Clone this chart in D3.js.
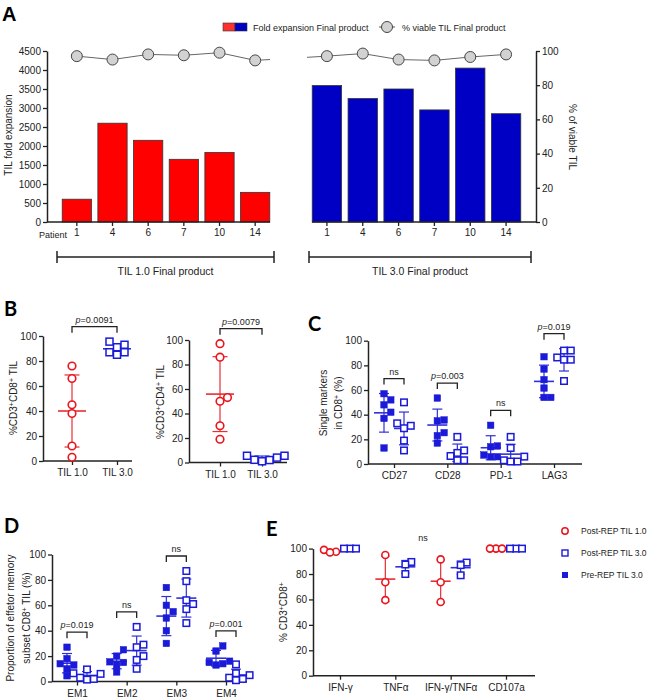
<!DOCTYPE html>
<html>
<head>
<meta charset="utf-8">
<script src="https://cdn.jsdelivr.net/npm/d3@7"></script>
<style>
  body { margin: 0; background: #fff; }
  svg { font-family: "Liberation Sans", Arial, sans-serif; }
</style>
</head>
<body>
<svg id="fig" width="648" height="700"></svg>
<script>
// ---- data ----
const patients = ['1', '4', '6', '7', '10', '14'];
const foldTIL1 = [600, 2600, 2150, 1650, 1830, 780];
const foldTIL3 = [3590, 3250, 3500, 2950, 4050, 2850];
const viableTIL1 = [97, 95, 98, 97.5, 99, 94.5];
const viableTIL3 = [97, 98.5, 95, 94.5, 96.5, 98];
const foldTicks = d3.range(0, 4501, 500);
const pctTicks = [0, 20, 40, 60, 80, 100];

const tilGroups = ['TIL 1.0', 'TIL 3.0'];
const cd8TIL1 = [76, 66, 45, 38, 12, 3];
const cd8TIL3 = [91, 93, 95.5, 87, 87, 85];
const cd4TIL1 = [97, 86, 53, 50, 30, 19];
const cd4TIL3 = [5.5, 4, 5.5, 2.2, 2, 1];
const tilStats = ['p=0.0091', 'p=0.0079'];

const markers = ['CD27', 'CD28', 'PD-1', 'LAG3'];
const markerPre = [[52, 57, 48, 42, 37, 13], [53.5, 35.7, 35, 25.4, 23, 17], [31.4, 14.6, 14, 7.3, 5.9, 5.9], [87, 77, 68.4, 61.6, 54, 54]];
const markerPost = [[50, 33, 31, 29, 19, 11], [22, 11, 9, 6.5, 3, 3], [22, 13, 6, 3, 2, 2], [92, 92, 86.4, 84.6, 84.6, 67.3]];
const markerStats = ['ns', 'p=0.003', 'ns', 'p=0.019'];

const subsets = ['EM1', 'EM2', 'EM3', 'EM4'];
const subsetPre = [[27, 18, 14, 13, 10, 4.5], [25, 20, 15.5, 15, 13, 7.5], [74, 60, 55, 50, 40, 30], [28, 24, 16, 15, 14, 13]];
const subsetPost = [[9.5, 6.5, 6, 3, 2, 1.5], [43, 29, 27, 20, 17, 10], [87, 79, 64, 61, 57, 46], [13.5, 6.5, 5, 3, 2, 1]];
const subsetStats = ['p=0.019', 'ns', 'ns', 'p=0.001'];

const cytokines = ['IFN-γ', 'TNFα', 'IFN-γ/TNFα', 'CD107a'];
const cytoTIL1 = [[99, 97.5, 97], [95, 73.5, 59.5], [91.5, 73.5, 58], [100, 100, 100]];
const cytoTIL3 = [[100, 100, 100], [89.5, 87.5, 80], [89, 87, 79], [100, 100, 100]];
const legendE = ['Post-REP TIL 1.0', 'Post-REP TIL 3.0', 'Pre-REP TIL 3.0'];

// ---- style ----
const FONT = '"Liberation Sans", Arial, sans-serif';
const INK = '#222';
const RED = '#e8161e', BLUE = '#1a1ad8';
const svg = d3.select('#fig');

function styleAxis(a, fs) {
  a.attr('font-family', FONT).attr('font-size', fs || 10);
  a.selectAll('.domain').attr('stroke', INK).attr('stroke-width', 1.5);
  a.selectAll('.tick line').attr('stroke', INK).attr('stroke-width', 1.3);
  a.selectAll('.tick text').attr('fill', INK);
}

// text with superscripts / italics
function rich(t, parts) {
  parts.forEach(([s, f]) => {
    const ts = t.append('tspan').text(s);
    if (f === 'sup') ts.attr('baseline-shift', 'super').attr('font-size', '0.7em');
    if (f === 'i') ts.attr('font-style', 'italic');
  });
  return t;
}
function statParts(s) {
  return s.startsWith('p=') ? [['p', 'i'], [s.slice(1)]] : [[s]];
}
function vTitle(x, y, parts, rot, fs) {
  const t = svg.append('text')
    .attr('transform', `translate(${x},${y}) rotate(${rot || -90})`)
    .attr('text-anchor', 'middle').attr('dy', '0.35em')
    .attr('font-size', fs || 10).attr('fill', INK);
  return rich(t, parts);
}
function panelLabel(s, x, y, fam) {
  svg.append('text').attr('x', x).attr('y', y).text(s)
    .attr('font-family', fam).attr('font-weight', 'bold').attr('font-size', 20).attr('fill', '#000');
}

// simple beeswarm: nearest free horizontal slot
function swarm(values, y, d) {
  const order = d3.range(values.length).sort((a, b) => values[a] - values[b]);
  const placed = [], offs = [];
  order.forEach(i => {
    const yi = y(values[i]);
    for (let k = 0; ; k++) {
      const o = k === 0 ? 0 : (k % 2 ? 1 : -1) * Math.ceil(k / 2) * d;
      if (placed.every(p => Math.hypot(p.x - o, p.y - yi) >= d * 0.999)) {
        offs[i] = o; placed.push({ x: o, y: yi }); break;
      }
    }
  });
  return offs;
}

// ================= Panel A =================
panelLabel('A', 2, 21, FONT);
const yFold = d3.scaleLinear().domain([0, 4500]).range([222, 51]);
const yViab = d3.scaleLinear().domain([0, 100]).range([222, 51]);
const xA1 = d3.scaleBand().domain(patients).range([59, 273]).paddingInner(0.18).paddingOuter(0.09);
const xA3 = d3.scaleBand().domain(patients).range([309, 524]).paddingInner(0.18).paddingOuter(0.09);

const gA = svg.append('g');
[[xA1, foldTIL1, '#ff0000'], [xA3, foldTIL3, '#0000c4']].forEach(([x, vals, col]) => {
  gA.append('g').selectAll('rect').data(vals).join('rect')
    .attr('x', (d, i) => x(patients[i]))
    .attr('y', d => yFold(d))
    .attr('width', x.bandwidth())
    .attr('height', d => yFold(0) - yFold(d))
    .attr('fill', col).attr('stroke', '#333').attr('stroke-width', 0.8);
});

const axL = gA.append('g').attr('transform', 'translate(47,0)')
  .call(d3.axisLeft(yFold).tickValues(foldTicks).tickSize(4).tickPadding(2).tickSizeOuter(0).tickFormat(d3.format('d')));
styleAxis(axL);
const axR = gA.append('g').attr('transform', 'translate(536,0)')
  .call(d3.axisRight(yViab).tickValues(pctTicks).tickSize(4).tickPadding(2).tickSizeOuter(0));
styleAxis(axR);

[[47, 270, xA1], [312, 536, xA3]].forEach(([x1, x2, x]) => {
  gA.append('line').attr('x1', x1).attr('x2', x2).attr('y1', 222).attr('y2', 222)
    .attr('stroke', INK).attr('stroke-width', 1.5);
  const ax = gA.append('g').attr('transform', 'translate(0,222)')
    .call(d3.axisBottom(x).tickSize(4).tickPadding(3));
  ax.select('.domain').remove();
  styleAxis(ax);
});
gA.append('text').attr('x', 39).attr('y', 238).text('Patient').attr('font-size', 9).attr('fill', INK);

vTitle(8, 135, [['TIL fold expansion']]);
vTitle(572, 137, [['% of viable TIL']], 90);

// viability line + circles
const defs = svg.append('defs');
defs.append('clipPath').attr('id', 'clipA1').append('rect').attr('x', 47).attr('y', 0).attr('width', 223).attr('height', 230);
defs.append('clipPath').attr('id', 'clipA3').append('rect').attr('x', 307).attr('y', 0).attr('width', 229).attr('height', 230);
const viabPts = patients.map((p, i) => [xA1(p) + xA1.bandwidth() / 2, yViab(viableTIL1[i])])
  .concat(patients.map((p, i) => [xA3(p) + xA3.bandwidth() / 2, yViab(viableTIL3[i])]));
['clipA1', 'clipA3'].forEach(id => {
  gA.append('path').attr('d', d3.line()(viabPts)).attr('clip-path', `url(#${id})`)
    .attr('fill', 'none').attr('stroke', '#555').attr('stroke-width', 0.9);
});
gA.append('g').selectAll('circle').data(viabPts).join('circle')
  .attr('cx', d => d[0]).attr('cy', d => d[1]).attr('r', 5.5)
  .attr('fill', '#d2d2d2').attr('stroke', '#444').attr('stroke-width', 1);

// legend A
gA.append('rect').attr('x', 223).attr('y', 23).attr('width', 12).attr('height', 8).attr('fill', '#ff3030').attr('stroke', '#333').attr('stroke-width', 0.6);
gA.append('rect').attr('x', 235).attr('y', 23).attr('width', 12).attr('height', 8).attr('fill', '#0000c4').attr('stroke', '#333').attr('stroke-width', 0.6);
gA.append('text').attr('x', 253).attr('y', 30.5).text('Fold expansion Final product').attr('font-size', 9).attr('fill', INK);
gA.append('line').attr('x1', 379).attr('x2', 395).attr('y1', 27).attr('y2', 27).attr('stroke', '#555');
gA.append('circle').attr('cx', 387).attr('cy', 27).attr('r', 5.5).attr('fill', '#d2d2d2').attr('stroke', '#444');
gA.append('text').attr('x', 402).attr('y', 30.5).text('% viable TIL Final product').attr('font-size', 9).attr('fill', INK);

// group brackets
[[57, 274, 'TIL 1.0 Final product'], [309, 531, 'TIL 3.0 Final product']].forEach(([x1, x2, lab]) => {
  gA.append('path').attr('d', `M${x1},251V263M${x1},257H${x2}M${x2},251V263`)
    .attr('fill', 'none').attr('stroke', INK).attr('stroke-width', 1.5);
  gA.append('text').attr('x', (x1 + x2) / 2).attr('y', 275).attr('text-anchor', 'middle')
    .text(lab).attr('font-size', 10.5).attr('fill', INK);
});

// ================= dot plot panels =================
function dotPanel(p) {
  const g = svg.append('g');
  const y = d3.scaleLinear().domain([0, 100]).range([p.yBottom, p.yTop]);
  const x = d3.scalePoint().domain(p.cats).range(p.catRange);
  const ya = g.append('g').attr('transform', `translate(${p.axisX},0)`)
    .call(d3.axisLeft(y).tickValues(pctTicks).tickSize(4).tickPadding(2).tickSizeOuter(0));
  styleAxis(ya);
  g.append('line').attr('x1', p.axisX).attr('x2', p.xEnd).attr('y1', y(0)).attr('y2', y(0))
    .attr('stroke', INK).attr('stroke-width', 1.5);
  const xa = g.append('g').attr('transform', `translate(0,${y(0)})`)
    .call(d3.axisBottom(x).tickSize(4).tickPadding(4));
  xa.select('.domain').remove();
  styleAxis(xa);

  p.series.forEach(s => {
    const cx = x(s.cat) + s.dx;
    const mean = d3.mean(s.vals), sd = d3.deviation(s.vals) || 0;
    const eb = g.append('g').attr('stroke', s.color).attr('stroke-width', 1.2).attr('opacity', 0.9);
    const lo = y(Math.max(0, mean - sd)), hi = y(mean + sd);
    if (sd > 0) {
      eb.append('line').attr('x1', cx).attr('x2', cx).attr('y1', lo).attr('y2', hi);
      [lo, hi].forEach(v => eb.append('line').attr('x1', cx - p.capW / 2).attr('x2', cx + p.capW / 2).attr('y1', v).attr('y2', v));
    }
    eb.append('line').attr('x1', cx - p.meanW / 2).attr('x2', cx + p.meanW / 2)
      .attr('y1', y(mean)).attr('y2', y(mean)).attr('stroke-width', 1.6);

    const offs = swarm(s.vals, y, p.d);
    const pts = g.append('g');
    if (s.kind === 'circle') {
      pts.selectAll('circle').data(s.vals).join('circle')
        .attr('cx', (d, i) => cx + offs[i]).attr('cy', d => y(d)).attr('r', p.r)
        .attr('fill', '#fff').attr('stroke', s.color).attr('stroke-width', 1.6);
    } else {
      const filled = s.kind === 'fsquare';
      pts.selectAll('rect').data(s.vals).join('rect')
        .attr('x', (d, i) => cx + offs[i] - p.sq / 2).attr('y', d => y(d) - p.sq / 2)
        .attr('width', p.sq).attr('height', p.sq)
        .attr('fill', filled ? s.color : '#fff').attr('stroke', s.color).attr('stroke-width', filled ? 0.5 : 1.5);
    }
  });

  (p.brackets || []).forEach(b => {
    const sa = p.series[b.a], sb = p.series[b.b];
    const xa1 = x(sa.cat) + sa.dx, xb1 = x(sb.cat) + sb.dx;
    const top = d3.min([sa, sb], s => Math.min(y(d3.max(s.vals)), y(d3.mean(s.vals) + d3.deviation(s.vals)))) - 15;
    g.append('path').attr('d', `M${xa1},${top + 6}V${top}H${xb1}V${top + 6}`)
      .attr('fill', 'none').attr('stroke', INK).attr('stroke-width', 1.3);
    rich(g.append('text').attr('x', (xa1 + xb1) / 2).attr('y', top - 4).attr('text-anchor', 'middle')
      .attr('font-size', 9).attr('fill', INK), statParts(b.label));
  });
  return { g, x, y };
}

// ================= Panel B =================
panelLabel('B', 4, 316, 'Lato, ' + FONT);
dotPanel({
  yBottom: 461, yTop: 336, axisX: 43, xEnd: 132, cats: tilGroups, catRange: [72, 117],
  meanW: 28, capW: 15, d: 7.5, r: 3.8, sq: 7,
  series: [
    { cat: tilGroups[0], dx: 0, vals: cd8TIL1, kind: 'circle', color: RED },
    { cat: tilGroups[1], dx: 0, vals: cd8TIL3, kind: 'square', color: BLUE }
  ],
  brackets: [{ a: 0, b: 1, label: tilStats[0] }]
});
vTitle(13, 398, [['%CD3'], ['+', 'sup'], ['CD8'], ['+', 'sup'], [' TIL']]);

dotPanel({
  yBottom: 462.5, yTop: 340, axisX: 189, xEnd: 287, cats: tilGroups, catRange: [220, 262],
  meanW: 28, capW: 15, d: 7.5, r: 3.8, sq: 7,
  series: [
    { cat: tilGroups[0], dx: 0, vals: cd4TIL1, kind: 'circle', color: RED },
    { cat: tilGroups[1], dx: 0, vals: cd4TIL3, kind: 'square', color: BLUE }
  ],
  brackets: [{ a: 0, b: 1, label: tilStats[1] }]
});
vTitle(160, 402, [['%CD3'], ['+', 'sup'], ['CD4'], ['+', 'sup'], [' TIL']]);

// ================= Panel C =================
panelLabel('C', 308, 331, 'Lato, ' + FONT);
const seriesC = [], bracketsC = [];
markers.forEach((m, i) => {
  seriesC.push({ cat: m, dx: -10, vals: markerPre[i], kind: 'fsquare', color: BLUE });
  seriesC.push({ cat: m, dx: 10, vals: markerPost[i], kind: 'square', color: BLUE });
  bracketsC.push({ a: 2 * i, b: 2 * i + 1, label: markerStats[i] });
});
dotPanel({
  yBottom: 464, yTop: 340.7, axisX: 368, xEnd: 582, cats: markers, catRange: [394, 554],
  meanW: 20, capW: 10, d: 6.8, r: 3.5, sq: 6.5, series: seriesC, brackets: bracketsC
});
vTitle(323, 403, [['Single markers']]);
vTitle(338, 403, [['in CD8'], ['+', 'sup'], [' (%)']]);

// ================= Panel D =================
panelLabel('D', 4, 533, 'Lato, ' + FONT);
const seriesD = [], bracketsD = [];
subsets.forEach((m, i) => {
  seriesD.push({ cat: m, dx: -10, vals: subsetPre[i], kind: 'fsquare', color: BLUE });
  seriesD.push({ cat: m, dx: 10, vals: subsetPost[i], kind: 'square', color: BLUE });
  bracketsD.push({ a: 2 * i, b: 2 * i + 1, label: subsetStats[i] });
});
dotPanel({
  yBottom: 681.5, yTop: 554.5, axisX: 52, xEnd: 247, cats: subsets, catRange: [77, 226],
  meanW: 20, capW: 10, d: 6.8, r: 3.5, sq: 6.5, series: seriesD, brackets: bracketsD
});
vTitle(10, 618, [['Proportion of effetor memory']]);
vTitle(26, 618, [['subset CD8'], ['+', 'sup'], [' TIL (%)']]);

// ================= Panel E =================
panelLabel('E', 266, 536, 'Lato, ' + FONT);
const seriesE = [];
cytokines.forEach((c, i) => {
  seriesE.push({ cat: c, dx: -10, vals: cytoTIL1[i], kind: 'circle', color: RED });
  seriesE.push({ cat: c, dx: 10, vals: cytoTIL3[i], kind: 'square', color: BLUE });
});
const pE = dotPanel({
  yBottom: 675.7, yTop: 548.6, axisX: 313, xEnd: 535, cats: cytokines, catRange: [340, 506],
  meanW: 20, capW: 8, d: 6, r: 3.5, sq: 6.5, series: seriesE
});
pE.g.append('text').attr('x', (pE.x(cytokines[1]) + pE.x(cytokines[2])) / 2).attr('y', 541)
  .attr('text-anchor', 'middle').attr('font-size', 9).attr('fill', INK).text('ns');
vTitle(283, 612, [['% CD3'], ['+', 'sup'], ['CD8'], ['+', 'sup']]);

// legend E
const legY = [531, 553, 575];
const gL = svg.append('g');
gL.append('circle').attr('cx', 565).attr('cy', legY[0]).attr('r', 3.2).attr('fill', '#fff').attr('stroke', RED).attr('stroke-width', 1.5);
gL.append('rect').attr('x', 562).attr('y', legY[1] - 3).attr('width', 6).attr('height', 6).attr('fill', '#fff').attr('stroke', BLUE).attr('stroke-width', 1.4);
gL.append('rect').attr('x', 562).attr('y', legY[2] - 3).attr('width', 6).attr('height', 6).attr('fill', BLUE);
legendE.forEach((t, i) => {
  gL.append('text').attr('x', 581).attr('y', legY[i] + 3).text(t).attr('font-size', 8.5).attr('fill', INK);
});
</script>
</body>
</html>
